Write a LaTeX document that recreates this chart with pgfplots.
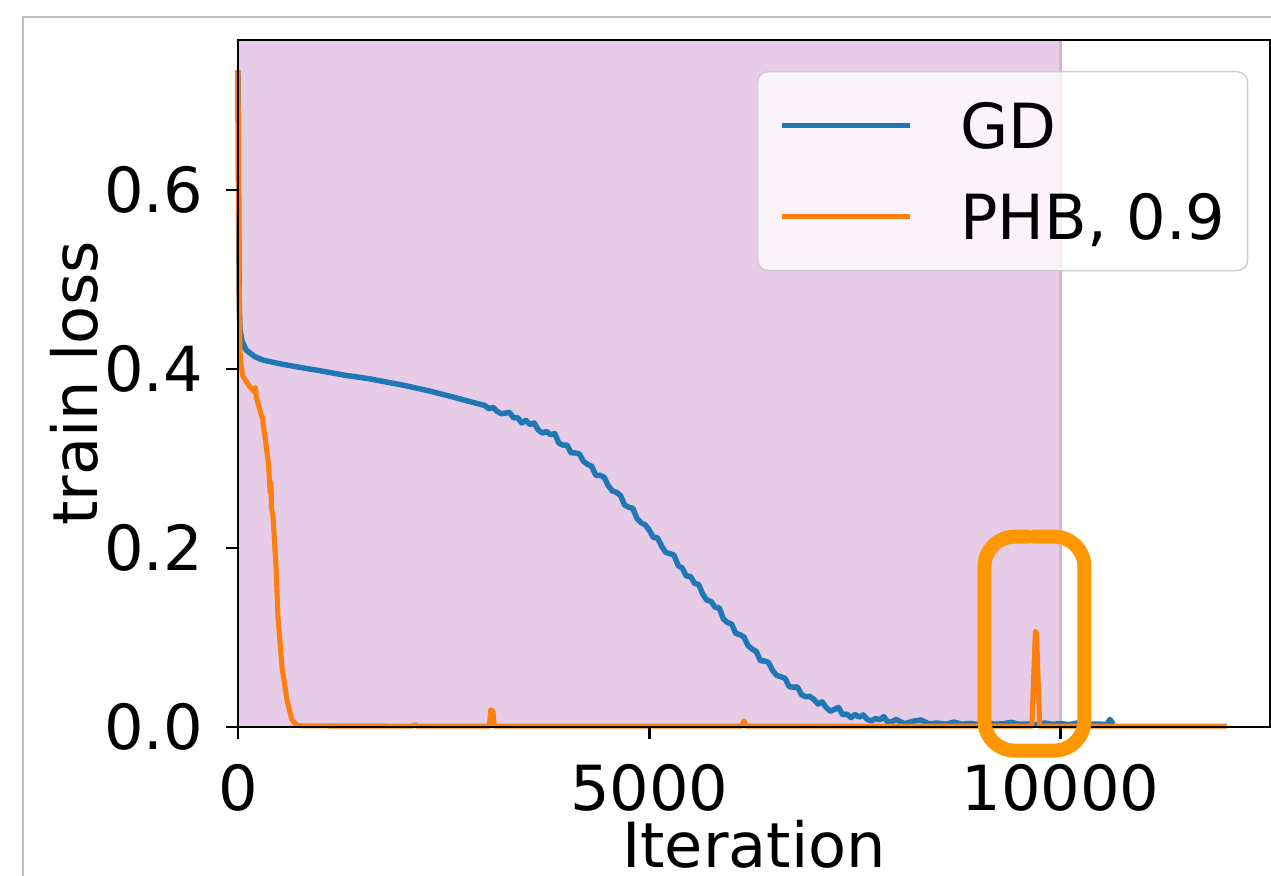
\documentclass[border=0pt]{standalone}
\usepackage{pgfplots}
\pgfplotsset{compat=1.18}
\usepackage{fontspec}
\setmainfont{DejaVu Sans}
\definecolor{mplblue}{HTML}{1F77B4}
\definecolor{mplorange}{HTML}{FF7F0E}
\definecolor{spancolor}{RGB}{230,204,230}
\definecolor{spanedge}{RGB}{214,180,214}
\definecolor{annot}{RGB}{255,152,0}
\definecolor{framegray}{RGB}{192,192,192}
\newcommand{\fs}{\fontsize{17.7}{21}\selectfont}
\begin{document}
\begin{tikzpicture}
\useasboundingbox (0,0) rectangle (12.71cm,8.76cm);
\clip (0,0) rectangle (12.71cm,8.76cm);
\begin{scope}[x=0.01cm,y=-0.01cm,yshift=8.76cm]
\draw[framegray, line width=0.012cm] (23,900) -- (23,17) -- (1300,17);
\end{scope}
\begin{axis}[
  at={(2.38cm,1.49cm)}, anchor=south west,
  scale only axis, width=10.32cm, height=6.87cm,
  xmin=0, xmax=12545, ymin=0, ymax=0.7676,
  axis line style={line width=0.8pt, black},
  xtick={0,5000,10000}, ytick={0,0.2,0.4,0.6},
  xtick pos=bottom, ytick pos=left,
  tick align=outside, major tick length=0.12cm,
  tick style={line width=0.8pt, black},
  scaled x ticks=false, scaled y ticks=false,
  /pgf/number format/assume math mode=true,
  xticklabel style={/pgf/number format/1000 sep={}, font=\fs, inner sep=0pt, anchor=north},
  yticklabel style={/pgf/number format/.cd, fixed, fixed zerofill, precision=1, /tikz/.cd, font=\fs, inner sep=0pt, anchor=east},
  xticklabel shift=0.25cm, yticklabel shift=0.22cm,
  xlabel={Iteration}, ylabel={train loss},
  xlabel style={font=\fs, at={(axis description cs:0.5,-0.205)}, anchor=base},
  ylabel style={font=\fs, at={(axis description cs:-0.1366,0.5)}, anchor=base},
  clip=false,
  axis on top,
  legend cell align=left,
  legend image code/.code={\draw[#1] (0cm,0cm) -- (1.28cm,0cm);},
  legend style={at={(axis description cs:0.5029,0.9549)}, anchor=north west,
    draw=black!20, fill=white, fill opacity=0.8, text opacity=1, draw opacity=1,
    rounded corners=3pt, inner xsep=0.22cm, inner ysep=0.25cm,
    row sep=0.33cm, column sep=0.47cm, font=\fs,
    nodes={inner sep=0pt, text height=0.52cm, text depth=0.06cm}},
]
\fill[spancolor] (axis cs:0,0) rectangle (axis cs:10000,0.7676);
\draw[spanedge, line width=0.8pt] (axis cs:10000,0) -- (axis cs:10000,0.7676);
\addplot[mplblue, line width=1.55pt, line join=round] coordinates {
(0,0.734)(8,0.56)(16,0.47)(24,0.444)(50,0.431)(100,0.421)(200,0.414)(300,0.410)(500,0.406)(800,0.401)(1000,0.398)(1300,0.393)(1600,0.389)(2000,0.382)(2300,0.376)(2600,0.369)(2800,0.364)
(3000,0.3592)(3050,0.3556)(3100,0.3572)(3150,0.3527)(3200,0.3499)(3250,0.3507)(3300,0.3515)(3350,0.3454)(3400,0.3456)(3450,0.3396)(3500,0.3427)(3550,0.3379)(3600,0.3397)(3650,0.3319)(3700,0.3284)(3750,0.3302)(3800,0.3266)(3850,0.3279)(3900,0.3172)(3950,0.3149)
(4000,0.315)(4050,0.3061)(4100,0.3062)(4150,0.3051)(4200,0.2968)(4250,0.2934)(4300,0.2912)(4350,0.2811)(4400,0.2813)(4450,0.2791)(4500,0.2697)(4550,0.2638)(4600,0.2622)(4650,0.2586)(4700,0.2479)(4750,0.2455)(4800,0.2443)(4850,0.2329)(4900,0.2282)(4950,0.2258)
(5000,0.2198)(5050,0.2117)(5100,0.2114)(5150,0.202)(5200,0.1951)(5250,0.1936)(5300,0.1921)(5350,0.1803)(5400,0.1776)(5450,0.1685)(5500,0.1684)(5550,0.1605)(5600,0.1592)(5650,0.1483)(5700,0.1416)(5750,0.1403)(5800,0.1336)(5850,0.1332)(5900,0.1207)(5950,0.1167)
(6000,0.115)(6050,0.1046)(6100,0.1032)(6150,0.1006)(6200,0.0908)(6250,0.087)(6300,0.0844)(6350,0.074)(6400,0.0738)(6450,0.072)(6500,0.0629)(6550,0.0575)(6600,0.0562)(6650,0.0543)(6700,0.0451)(6750,0.0444)(6800,0.0448)(6850,0.0361)(6900,0.0339)(6950,0.0342)
(7000,0.0308)(7050,0.0256)(7100,0.0281)(7150,0.0217)(7200,0.0176)(7250,0.0197)(7300,0.0218)(7350,0.0137)(7400,0.0145)(7450,0.0105)(7500,0.014)(7550,0.011)(7600,0.0135)(7650,0.0084)(7700,0.0068)(7750,0.0096)(7800,0.008)(7850,0.0116)(7900,0.0053)(7950,0.0059)
(8000,0.0085)(8100,0.0036)(8200,0.0063)(8300,0.0079)(8400,0.0035)(8500,0.0045)(8600,0.0030)(8700,0.0055)(8800,0.0032)(8900,0.0040)(9000,0.0028)(9100,0.0050)(9200,0.0031)(9300,0.0036)(9400,0.0052)(9500,0.0030)(9600,0.0034)(9700,0.0026)(9800,0.0045)(9900,0.0030)
(10000,0.0038)(10100,0.0027)(10200,0.0044)(10300,0.0030)(10400,0.0033)(10500,0.0031)(10560,0.0030)(10600,0.0085)(10640,0.0030)
};
\addlegendentry{GD}
\addplot[mplorange, line width=1.45pt, line join=round] coordinates {
(0,0.734)(8,0.60)(16,0.47)(24,0.42)(40,0.402)(60,0.392)(100,0.386)(146,0.380)(207,0.374)(212,0.379)(222,0.369)(260,0.356)(292,0.346)(300,0.346)(305,0.338)(328,0.324)(365,0.298)(380,0.280)(390,0.262)(393,0.272)(402,0.272)(406,0.245)(425,0.236)(462,0.179)(486,0.123)(535,0.067)(596,0.030)(656,0.0078)(717,0.002)(800,0.0012)
(2120,0.001)(2150,0.0025)(2180,0.001)(3055,0.001)(3072,0.019)(3098,0.018)(3115,0.001)(6125,0.001)(6150,0.007)(6175,0.001)(9650,0.001)(9693,0.107)(9707,0.104)(9745,0.001)(12020,0.001)
};
\addlegendentry{PHB, 0.9}
\end{axis}
\begin{scope}[x=0.01cm,y=-0.01cm,yshift=8.76cm]
\draw[annot, line width=0.14cm, rounded corners=0.3cm, line cap=round] (1035,537) -- (1085,537) -- (1085,751) -- (985,751) -- (985,537) -- (1028,537);
\end{scope}
\end{tikzpicture}
\end{document}
